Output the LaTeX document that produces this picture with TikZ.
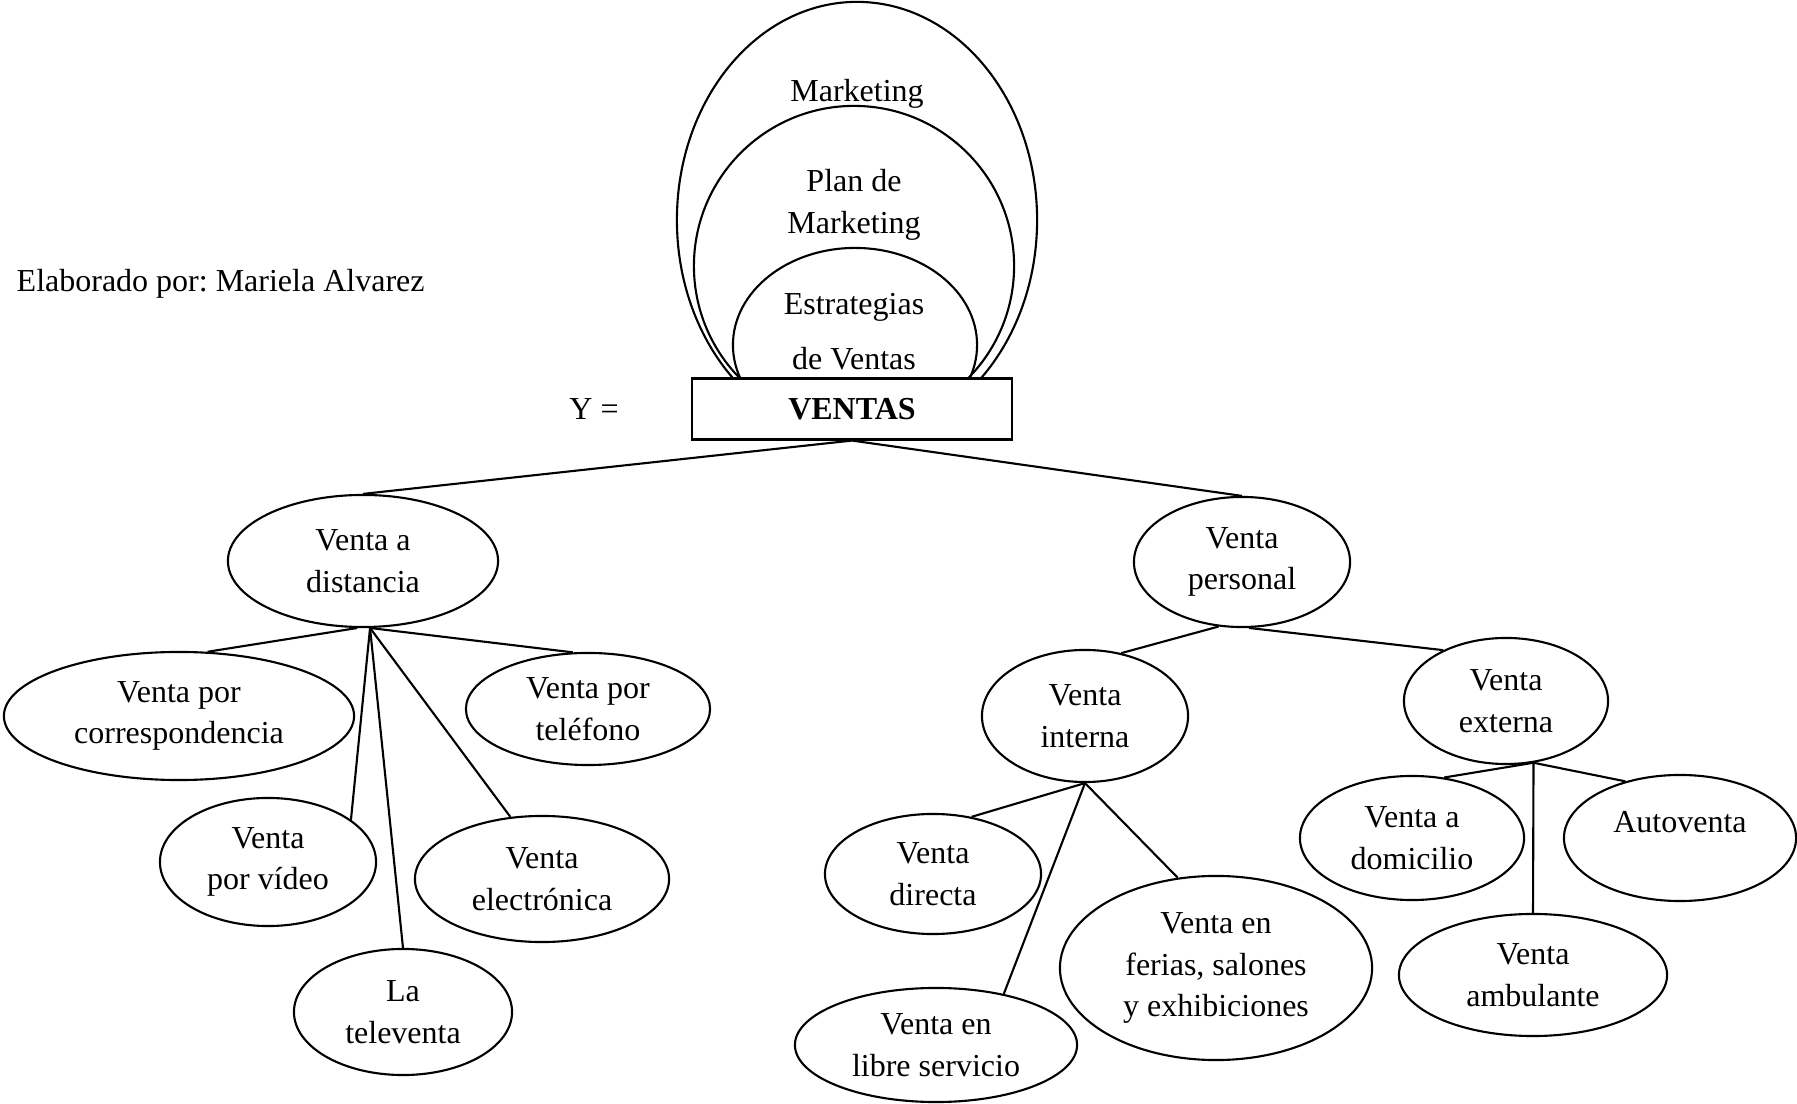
\documentclass[tikz,border=0pt]{standalone}
\usepackage{fontspec}
\setmainfont{Liberation Serif}
\usetikzlibrary{shapes.geometric,positioning}
\frenchspacing

\begin{document}
\begin{tikzpicture}[x=0.01cm,y=-0.01cm,
  every node/.style={font=\fontsize{9.1}{11.8}\selectfont},
  burbuja/.style={draw,ellipse,inner sep=0pt,align=center,line width=0.6pt},
  rama/.style={line width=0.6pt}]

            \useasboundingbox (0,0) rectangle (1797,1104);

            % los tres circulos sobre la caja
            \begin{scope}
                \clip (0,0) rectangle (1797,380);
                \node (mkt) at (857,220) [burbuja,minimum width=3.6cm,minimum height=4.36cm] {};
                \node (plan) at (854,266) [burbuja,minimum width=3.2cm,minimum height=3.2cm] {};
                \node (estr) at (855,345) [burbuja,minimum width=2.44cm,minimum height=1.94cm] {};
            \end{scope}
            \node (tmkt) at (857,94) [anchor=center] {Marketing};
            \node (tplan) at (854,205) [align=center] {Plan de\\Marketing};
            \node (testr) at (854,332) [align=center] {Estrategias\\[3.8pt]de Ventas};

            \node (ventas) at (852,409) [draw,fill=white,line width=0.6pt,minimum width=3.2cm,minimum height=0.61cm] {\bfseries VENTAS};
            \node (igual) at (594,409) [anchor=center] {Y =};
            \node (autor) at (16,284) [anchor=west,inner sep=0pt] {Elaborado por: Mariela Alvarez};

            % primer nivel
            \node (dist) at (363,561) [burbuja,minimum width=2.7cm,minimum height=1.32cm] {Venta a\\distancia};
            \node (pers) at (1242,562) [burbuja,minimum width=2.16cm,minimum height=1.3cm] {Venta\\personal};

            % venta a distancia
            \node (corr) at (179,716) [burbuja,minimum width=3.5cm,minimum height=1.28cm] {Venta por\\correspondencia};
            \node (tel) at (588,709) [burbuja,minimum width=2.44cm,minimum height=1.12cm] {Venta por\\teléfono};
            \node (vid) at (268,862) [burbuja,minimum width=2.16cm,minimum height=1.28cm] {Venta\\por vídeo};
            \node (elec) at (542,879) [burbuja,minimum width=2.54cm,minimum height=1.26cm] {Venta\\electrónica};
            \node (telev) at (403,1012) [burbuja,minimum width=2.18cm,minimum height=1.26cm] {La\\televenta};

            % venta personal
            \node (int) at (1085,716) [burbuja,minimum width=2.06cm,minimum height=1.32cm] {Venta\\interna};
            \node (ext) at (1506,701) [burbuja,minimum width=2.04cm,minimum height=1.26cm] {Venta\\externa};
            \node (dir) at (933,874) [burbuja,minimum width=2.16cm,minimum height=1.2cm] {Venta\\directa};
            \node (libre) at (936,1045) [burbuja,minimum width=2.82cm,minimum height=1.14cm] {Venta en\\libre servicio};
            \node (ferias) at (1216,968) [burbuja,minimum width=3.12cm,minimum height=1.84cm] {Venta en\\ferias, salones\\y exhibiciones};
            \node (domi) at (1412,838) [burbuja,minimum width=2.24cm,minimum height=1.24cm] {Venta a\\domicilio};
            \node (auto) at (1680,838) [burbuja,minimum width=2.32cm,minimum height=1.26cm] {};
            \node (tauto) at (1680,822) [anchor=center] {Autoventa};
            \node (amb) at (1533,975) [burbuja,minimum width=2.68cm,minimum height=1.22cm] {Venta\\ambulante};

            \draw[rama] (ventas.south) -- (dist.north);
            \draw[rama] (ventas.south) -- (pers.north);

            \draw[rama] (dist.265) -- (corr.66);
            \draw[rama] (dist.-84) -- (tel.105);
            \draw[rama] (dist.-84) -- (vid.27);
            \draw[rama] (dist.-84) -- (telev.north);
            \draw[rama] (dist.-84) -- (elec.117);

            \draw[rama] (pers.250) -- (int.60);
            \draw[rama] (pers.-84) -- (ext.141);
            \draw[rama] (int.south) -- (dir.56);
            \draw[rama] (int.south) -- (libre.37);
            \draw[rama] (int.south) -- (ferias.113);
            \draw[rama] (ext.-66) -- (domi.62);
            \draw[rama] (ext.-66) -- (amb.north);
            \draw[rama] (ext.-66) -- (auto.134);

        \end{tikzpicture}
\end{document}
